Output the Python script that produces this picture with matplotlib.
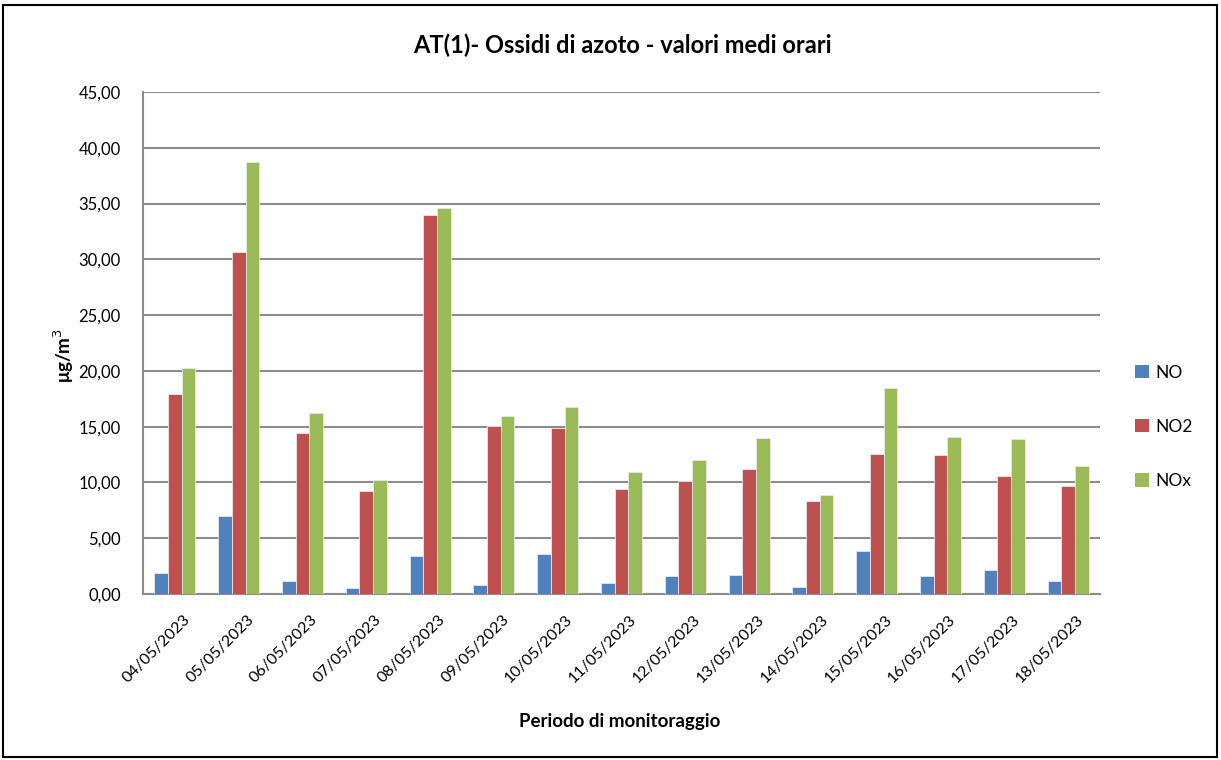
import numpy as np
import matplotlib
matplotlib.use("Agg")
from matplotlib import pyplot as plt
from matplotlib.ticker import FuncFormatter
from matplotlib.patches import Rectangle
from matplotlib.transforms import ScaledTranslation

plt.rcParams['font.family'] = ['Lato', 'DejaVu Sans']

# DATA ========================================================================
dates = ['04/05/2023', '05/05/2023', '06/05/2023', '07/05/2023', '08/05/2023',
         '09/05/2023', '10/05/2023', '11/05/2023', '12/05/2023', '13/05/2023',
         '14/05/2023', '15/05/2023', '16/05/2023', '17/05/2023', '18/05/2023']
no_vals  = [1.9, 7.0, 1.2, 0.55, 3.4, 0.85, 3.6, 0.95, 1.6, 1.7, 0.6, 3.85, 1.6, 2.15, 1.15]
no2_vals = [17.9, 30.7, 14.4, 9.25, 34.0, 15.05, 14.9, 9.45, 10.15, 11.2, 8.3, 12.55, 12.45, 10.6, 9.65]
nox_vals = [20.3, 38.7, 16.2, 10.2, 34.6, 15.95, 16.8, 10.9, 12.05, 14.0, 8.85, 18.5, 14.1, 13.9, 11.5]
series_names = ['NO', 'NO2', 'NOx']
colors = ['#4F81BD', '#C0504D', '#9BBB59']

# PLOT ========================================================================
fig = plt.figure(figsize=(12.21, 7.60), dpi=100)
ax = fig.add_axes([143/1221, 1-594/760, (1100-143)/1221, (594-92)/760])

x = np.arange(len(dates))
w = 0.215
for i, (vals, name, c) in enumerate(zip([no_vals, no2_vals, nox_vals], series_names, colors)):
    ax.bar(x + (i-1)*w, vals, width=w, color=c, edgecolor='#e8e8e8', linewidth=0.6,
           label=name, zorder=3)

ax.set_xlim(-0.5, len(dates)-0.5)
ax.set_ylim(0, 45)
ax.set_yticks(np.arange(0, 46, 5))
ax.yaxis.set_major_formatter(FuncFormatter(lambda v, p: ('%.2f' % v).replace('.', ',')))
ax.grid(axis='y', color='#8c8c8c', linewidth=1.5, zorder=0)
ax.set_axisbelow(True)
for s in ['top', 'right']:
    ax.spines[s].set_visible(False)
for s in ['left', 'bottom']:
    ax.spines[s].set_color('#8c8c8c')
    ax.spines[s].set_linewidth(1.5)
ax.tick_params(axis='both', length=0, labelsize=12, colors='black')
ax.tick_params(axis='y', pad=16)
ax.tick_params(axis='x', labelsize=11.5)

ax.set_xticks(x)
ax.set_xticklabels(dates, rotation=45, ha='right', rotation_mode='anchor')
for lbl in ax.get_xticklabels():
    lbl.set_transform(lbl.get_transform() + ScaledTranslation(0.08, -0.14, fig.dpi_scale_trans))

fig.text(0.5 + 0.01, 1-45/760, 'AT(1)- Ossidi di azoto - valori medi orari',
         ha='center', va='center', fontsize=17, fontweight='bold')
fig.text(620/1221, 1-722/760, 'Periodo di monitoraggio', ha='center', va='center',
         fontsize=13.5, fontweight='bold')
fig.text(64/1221, 1-355/760, 'μg/m$^3$', ha='center', va='center', rotation=90,
         fontsize=13.5, fontweight='bold')

leg = ax.legend(loc='center left', bbox_to_anchor=(1.02, 0.333), frameon=False,
                fontsize=12.5, labelspacing=2.2, handlelength=0.8, handleheight=0.8,
                handletextpad=0.4)
for h in leg.legend_handles:
    h.set_edgecolor('none')

fig.patches.append(Rectangle((3/1221, 3/760), 1-7/1221, 1-8/760, transform=fig.transFigure,
                             fill=False, edgecolor='black', linewidth=1.5))

fig.savefig('out.png', dpi=100)
